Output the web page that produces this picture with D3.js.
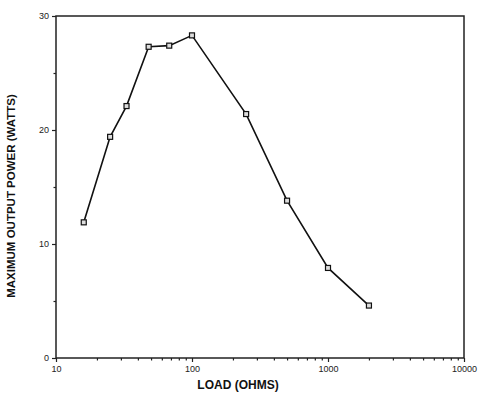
<!DOCTYPE html>
<html lang="en">
<head>
  <meta charset="UTF-8">
  <title>Maximum Output Power vs Load</title>
  <script src="https://d3js.org/d3.v7.min.js"></script>
  <style>
    body { margin: 0; background: #fff; font-family: Arial, "Liberation Sans", sans-serif; }
  </style>
</head>
<body>
<svg id="chart" width="485" height="398"></svg>
<script>
// Data
const loadOhms = [16, 25, 33, 48, 68, 100, 250, 500, 1000, 2000];
const powerWatts = [11.9, 19.4, 22.1, 27.3, 27.4, 28.3, 21.4, 13.8, 7.9, 4.6];
const xTickValues = [10, 100, 1000, 10000];
const yTickValues = [0, 10, 20, 30];
const yMinorTicks = [5, 15, 25];

const svg = d3.select("#chart");
const margin = { top: 16, right: 21, bottom: 40, left: 56 };
const width = 485, height = 398;

const x = d3.scaleLog()
  .domain([10, 10000])
  .range([margin.left, width - margin.right]);

const y = d3.scaleLinear()
  .domain([0, 30])
  .range([height - margin.bottom, margin.top]);

// Frame
svg.append("rect")
  .attr("x", margin.left)
  .attr("y", margin.top)
  .attr("width", width - margin.left - margin.right)
  .attr("height", height - margin.top - margin.bottom)
  .attr("fill", "none")
  .attr("stroke", "#222")
  .attr("stroke-width", 1.5);

// X axis: majors labelled, minors short
const xMinor = [];
for (let d = 10; d < 10000; d *= 10) {
  for (let k = 2; k <= 9; k++) xMinor.push(d * k);
}

const xAxis = svg.append("g")
  .attr("transform", `translate(0,${height - margin.bottom})`);

xAxis.call(d3.axisBottom(x).tickValues(xTickValues).tickFormat(d3.format("d")).tickSize(4).tickPadding(4));
xAxis.append("g").call(d3.axisBottom(x).tickValues(xMinor).tickFormat("").tickSize(2.5));
xAxis.selectAll(".domain").remove();

// Y axis
const yAxis = svg.append("g")
  .attr("transform", `translate(${margin.left},0)`);

yAxis.call(d3.axisLeft(y).tickValues(yTickValues).tickSize(4).tickPadding(3));
yAxis.append("g").call(d3.axisLeft(y).tickValues(yMinorTicks).tickFormat("").tickSize(2.5));
yAxis.selectAll(".domain").remove();

svg.selectAll(".tick line").attr("stroke", "#222").attr("stroke-width", 1.2);
svg.selectAll(".tick text")
  .attr("fill", "#222")
  .style("font-family", "Arial, 'Liberation Sans', sans-serif")
  .style("font-size", "9px");

// Axis titles
svg.append("text")
  .attr("x", 238)
  .attr("y", 389)
  .attr("text-anchor", "middle")
  .attr("font-weight", "bold")
  .attr("font-size", 12)
  .attr("fill", "#111")
  .text("LOAD (OHMS)");

svg.append("text")
  .attr("transform", "translate(15,196) rotate(-90)")
  .attr("text-anchor", "middle")
  .attr("font-weight", "bold")
  .attr("font-size", 11.5)
  .attr("fill", "#111")
  .text("MAXIMUM OUTPUT POWER (WATTS)");

// Line
const points = loadOhms.map((d, i) => ({ load: d, power: powerWatts[i] }));

svg.append("path")
  .datum(points)
  .attr("fill", "none")
  .attr("stroke", "#111")
  .attr("stroke-width", 1.6)
  .attr("d", d3.line()
    .x(d => x(d.load))
    .y(d => y(d.power))
  );

// Square markers
svg.selectAll(".marker")
  .data(points)
  .enter()
  .append("rect")
  .attr("class", "marker")
  .attr("x", d => x(d.load) - 2.5)
  .attr("y", d => y(d.power) - 2.5)
  .attr("width", 5)
  .attr("height", 5)
  .attr("fill", "#ddd")
  .attr("stroke", "#111")
  .attr("stroke-width", 1.2);
</script>
</body>
</html>
